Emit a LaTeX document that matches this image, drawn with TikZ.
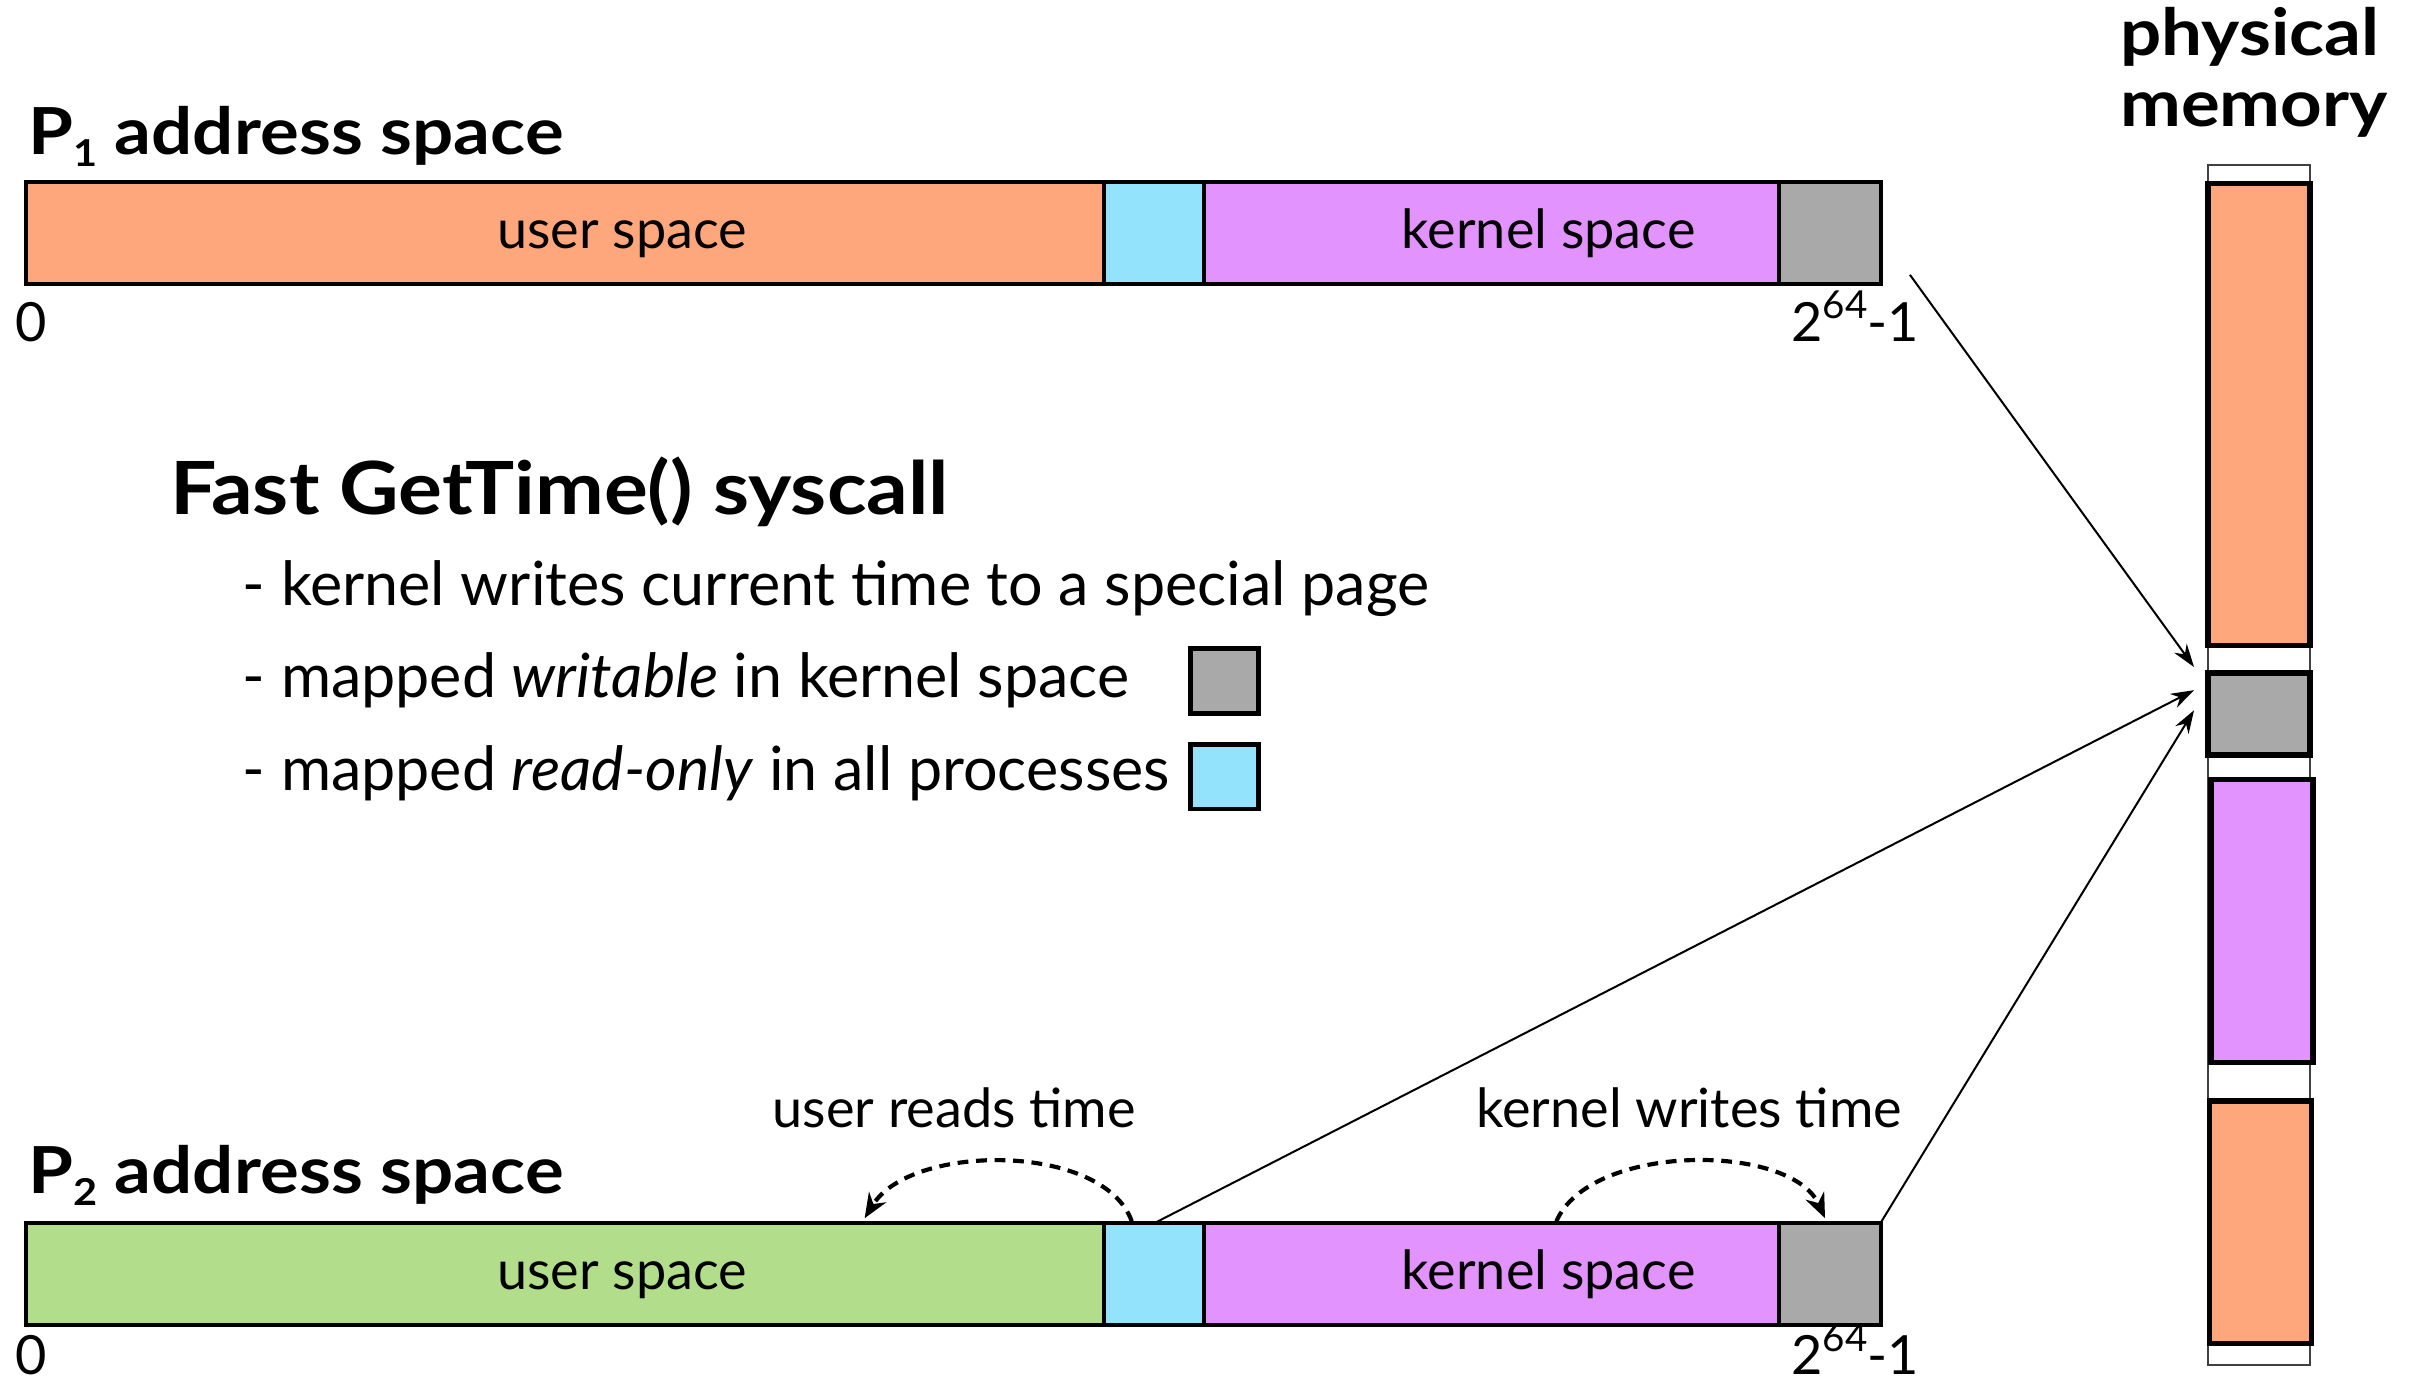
\documentclass[tikz,border=0pt]{standalone}
\usepackage{fontspec}
\setmainfont{Lato}
\newfontfamily\headfont{Lato}[FakeStretch=1.12]
\usetikzlibrary{arrows.meta,calc}

\definecolor{userorange}{HTML}{FFA77C}
\definecolor{roblue}{HTML}{93E3FD}
\definecolor{kpurple}{HTML}{E293FD}
\definecolor{pgray}{HTML}{A9A9A9}
\definecolor{ugreen}{HTML}{B2DE8C}

\newcommand{\subnum}[1]{\raisebox{-0.18em}{\fontsize{24}{24}\selectfont #1}}
\newcommand{\maxaddr}{2\raisebox{0.42em}{\fontsize{25}{25}\selectfont 64}-1}

\tikzset{
  seg/.style={draw=black, line width=2.5pt, inner sep=0pt, outer sep=0pt,
              anchor=north west, minimum height=66pt},
  block/.style={draw=black, line width=3.5pt, inner sep=0pt, outer sep=0pt,
                anchor=north west, minimum width=66pt},
  legendbox/.style={draw=black, line width=3pt, inner sep=0pt, outer sep=0pt,
                    anchor=north west, minimum width=44pt, minimum height=42pt},
  body/.style={font=\fontsize{35}{40}\selectfont, inner sep=0pt},
  bullet/.style={font=\fontsize{39.5}{44}\selectfont, inner sep=0pt, anchor=base west},
  heading/.style={font=\headfont\fontsize{42}{48}\selectfont\bfseries, inner sep=0pt},
  bigheading/.style={font=\headfont\fontsize{47.5}{54}\selectfont\bfseries, inner sep=0pt},
  map/.style={line width=1.3pt, -{Stealth[length=15pt,width=10pt]}},
  access/.style={line width=2.7pt, dash pattern=on 7pt off 5pt,
                 -{Stealth[length=16pt,width=13pt]}},
}

\begin{document}
\begin{tikzpicture}[x=1pt,y=-1pt]
\useasboundingbox (0,0) rectangle (1568,897);

% ---- P1 address space ----
\node[heading, anchor=base west] (p1title) at (18,100) {P\subnum{1} address space};
\node[seg, fill=userorange, minimum width=698pt] (u1) at (17,118) {};
\node[seg, fill=roblue, minimum width=65pt] (r1) at (u1.north east) {};
\node[seg, fill=kpurple, minimum width=372pt] (k1) at (r1.north east) {};
\node[seg, fill=pgray, minimum width=66pt] (g1) at (k1.north east) {};
\node[body, anchor=base] (u1t) at (403,161) {user space};
\node[body, anchor=base] (k1t) at (1003,161) {kernel space};
\node[body, anchor=base west] (z1) at (10,221) {0};
\node[body, anchor=base west] (m1) at (1160,221) {\maxaddr};

% ---- P2 address space ----
\node[heading, anchor=base west] (p2title) at (18,773) {P\subnum{2} address space};
\node[seg, fill=ugreen, minimum width=698pt] (u2) at (17,792) {};
\node[seg, fill=roblue, minimum width=65pt] (r2) at (u2.north east) {};
\node[seg, fill=kpurple, minimum width=372pt] (k2) at (r2.north east) {};
\node[seg, fill=pgray, minimum width=66pt] (g2) at (k2.north east) {};
\node[body, anchor=base] (u2t) at (403,835) {user space};
\node[body, anchor=base] (k2t) at (1003,835) {kernel space};
\node[body, anchor=base west] (z2) at (10,890) {0};
\node[body, anchor=base west] (m2) at (1160,890) {\maxaddr};

\node[body, anchor=base] (readlbl) at (618,730) {user reads time};
\node[body, anchor=base] (writelbl) at (1094,730) {kernel writes time};

% ---- description ----
\node[bigheading, anchor=base west] (fast) at (110,333) {Fast GetTime() syscall};
\node[bullet] (b1) at (157,392) {- kernel writes current time to a special page};
\node[bullet] (b2) at (157,452) {- mapped \textit{writable} in kernel space};
\node[bullet] (b3) at (157,512) {- mapped \textit{read-only} in all processes};
\node[legendbox, fill=pgray] (lg) at (771,420) {};
\node[legendbox, fill=roblue] (lb) at (771,482) {};

% ---- physical memory ----
\node[heading, anchor=base west] (pmt1) at (1373,36) {physical};
\node[heading, anchor=base west] (pmt2) at (1373,82) {memory};
\node[draw=black!75, line width=1pt, inner sep=0pt, outer sep=0pt, anchor=north west,
      minimum width=66pt, minimum height=777pt] (pmem) at (1430,107) {};
\node[block, fill=userorange, minimum height=299pt] (po1) at (1430,119) {};
\node[block, fill=pgray, minimum height=53pt] (pg) at (1430,436) {};
\node[block, fill=kpurple, minimum height=183pt] (pp) at (1432,505) {};
\node[block, fill=userorange, minimum height=157pt] (po2) at (1431,713) {};

% ---- mappings to the shared time page ----
\coordinate (a1s) at ($(g1.south east)+(19,-6)$);
\coordinate (a1e) at ($(pg.north west)+(-9,-4)$);
\coordinate (a2s) at ($(r2.north west)+(33,0)$);
\coordinate (a2e) at ($(pg.north west)+(-9,11)$);
\coordinate (a3e) at ($(pg.north west)+(-9,24)$);
\draw[map] (a1s) -- (a1e);
\draw[map] (a2s) -- (a2e);
\draw[map] (g2.north east) -- (a3e);

% ---- read / write accesses ----
\coordinate (rt) at ($(r2.north west)+(18,-1)$);
\coordinate (ut) at ($(u2.north west)+(543,-3)$);
\coordinate (kt) at ($(k2.north west)+(228,-1)$);
\coordinate (gt) at ($(g2.north west)+(30,-3)$);
\draw[access] (rt) .. controls +(-18,-51) and +(30,-49) .. (ut);
\draw[access] (kt) .. controls +(22,-51) and +(-22,-49) .. (gt);
\end{tikzpicture}
\end{document}
